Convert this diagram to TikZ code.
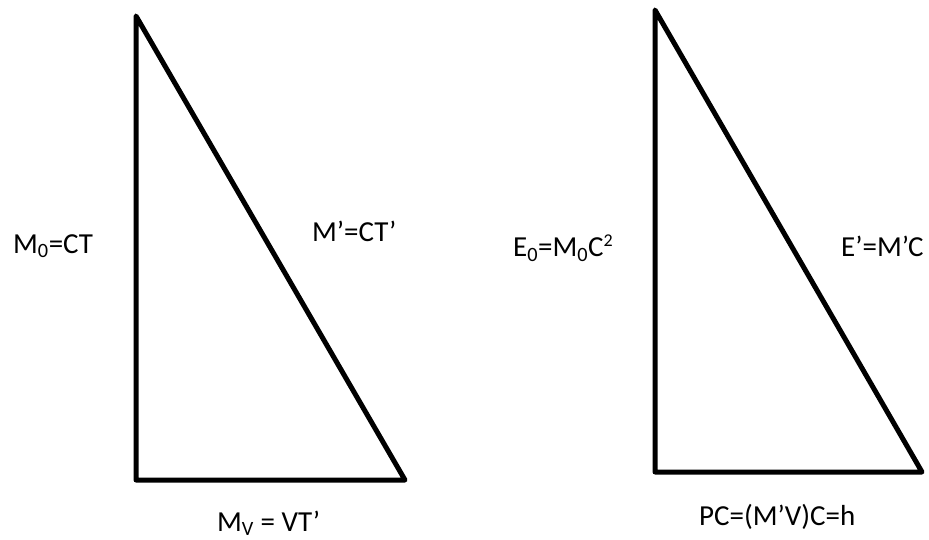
\documentclass[tikz,border=0pt]{standalone}
\usepackage{fontspec}
\setmainfont{Carlito}
\usepackage{xcolor}

\begin{document}
\begin{tikzpicture}[x=1pt,y=-1pt,
  side/.style={line width=5pt, line join=round},
  lbl/.style={anchor=base west, inner sep=0pt, font=\fontsize{29}{35}\selectfont}]
  \useasboundingbox (0,0) rectangle (929,540);
  % left triangle
  \coordinate (a1) at (136,16);
  \coordinate (b1) at (136,480);
  \coordinate (c1) at (405,480);
  \draw[side] (a1) -- (b1) -- (c1) -- cycle;
  \node[lbl] (m0) at (13,253) {M\textsubscript{0}=CT};
  \node[lbl] (mp) at (312,242) {M’=CT’};
  \node[lbl] (mv) at (217,531) {M\textsubscript{V} = VT’};
  % right triangle
  \coordinate (a2) at (655,10);
  \coordinate (b2) at (655,472);
  \coordinate (c2) at (922,472);
  \draw[side] (a2) -- (b2) -- (c2) -- cycle;
  \node[lbl] (e0) at (513,257) {E\textsubscript{0}=M\textsubscript{0}C\raisebox{10pt}{\fontsize{18}{20}\selectfont 2}};
  \node[lbl] (ep) at (841,257) {E’=M’C};
  \node[lbl] (pc) at (699,525) {PC=(M’V)C=h};
\end{tikzpicture}
\end{document}
